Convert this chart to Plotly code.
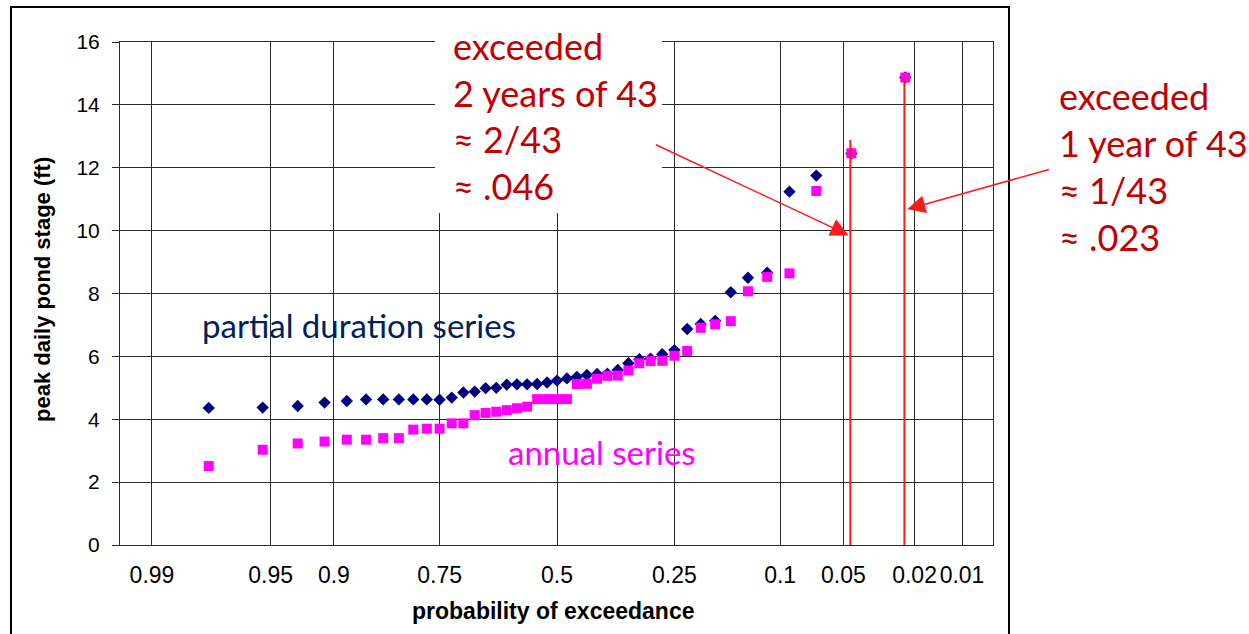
from statistics import NormalDist
import plotly.graph_objects as go

# Peak daily pond stage (ft) for 43 years of record, ranked largest (rank 1) to smallest
partial_duration_ft = [14.87, 12.45, 11.75, 11.24, 8.66, 8.50, 8.04, 7.13, 7.03, 6.87,
                       6.20, 6.07, 5.93, 5.91, 5.78, 5.57, 5.45, 5.44, 5.41, 5.35,
                       5.30, 5.23, 5.17, 5.12, 5.11, 5.11, 5.10, 5.00, 4.99, 4.88,
                       4.85, 4.69, 4.62, 4.63, 4.63, 4.63, 4.63, 4.63, 4.58, 4.53,
                       4.42, 4.37, 4.36]
annual_ft = [14.87, 12.46, 11.26, 8.64, 8.53, 8.07, 7.12, 7.02, 6.91, 6.17,
             6.02, 5.86, 5.85, 5.78, 5.55, 5.39, 5.38, 5.29, 5.13, 5.12,
             4.64, 4.64, 4.64, 4.64, 4.40, 4.35, 4.29, 4.24, 4.20, 4.13,
             3.87, 3.87, 3.70, 3.70, 3.67, 3.40, 3.40, 3.35, 3.35, 3.29,
             3.23, 3.03, 2.51]
years_of_record = 43

# Probability-paper ticks
tick_probs = [0.99, 0.95, 0.9, 0.75, 0.5, 0.25, 0.1, 0.05, 0.02, 0.01]
tick_labels = ["0.99", "0.95", "0.9", "0.75", "0.5", "0.25", "0.1", "0.05", "0.02", "0.01"]
y_ticks = [0, 2, 4, 6, 8, 10, 12, 14, 16]

# Exceedance probabilities called out on the chart
marked_probs = [0.046, 0.023]
marked_tops = [12.88, 14.9]

note_2yr = ["exceeded", "2 years of 43", "\u2248 2/43", "\u2248 .046"]
note_1yr = ["exceeded", "1 year of 43", "\u2248 1/43", "\u2248 .023"]

ND = NormalDist()


def zpos(p):
    """Normal-probability scale position for an exceedance probability."""
    return ND.inv_cdf(1.0 - p)


ranks = list(range(1, years_of_record + 1))
plot_pos = [m / (years_of_record + 1) for m in ranks]
xs = [zpos(p) for p in plot_pos]

W, H = 1249, 634
L, R, T, B = 120, 993, 42, 545
pw, ph = R - L, B - T


def px(xp):
    return (xp - L) / pw


def py(yp):
    return (B - yp) / ph


RED_TXT = "#C00000"
RED = "#FF1A1A"
GRID = "#2a2a2a"
AXIS_FONT = "Liberation Sans, Arial, sans-serif"

fig = go.Figure()
fig.add_trace(go.Scatter(
    x=xs, y=partial_duration_ft, mode="markers", name="partial duration series",
    marker=dict(symbol="diamond", size=9.5, color="#000080", line=dict(width=0)),
))
fig.add_trace(go.Scatter(
    x=xs, y=annual_ft, mode="markers", name="annual series",
    marker=dict(symbol="square", size=10, color="#FF00FF", line=dict(width=0)),
))

shapes = []
# white panel behind the 2-year note
shapes.append(dict(type="rect", xref="paper", yref="paper",
                   x0=px(435), x1=px(662), y0=py(213), y1=py(30),
                   fillcolor="white", line=dict(width=0), layer="above"))
# vertical markers at the called-out probabilities
for p, top in zip(marked_probs, marked_tops):
    shapes.append(dict(type="line", xref="x", yref="y",
                       x0=zpos(p), x1=zpos(p), y0=0, y1=top,
                       line=dict(color=RED, width=2), layer="above"))
# outer chart frame
shapes.append(dict(type="rect", xref="paper", yref="paper",
                   x0=px(11), x1=px(1009), y0=py(660), y1=py(7),
                   line=dict(color="black", width=2), fillcolor="rgba(0,0,0,0)",
                   layer="above"))

annotations = []
txt_font = "Lato, 'Open Sans', sans-serif"
for i, line in enumerate(note_2yr):
    annotations.append(dict(xref="paper", yref="paper", x=px(451), y=py(46 + 46.7 * i),
                            text=line, showarrow=False, xanchor="left", yanchor="middle",
                            font=dict(family=txt_font, size=36, color=RED_TXT)))
for i, line in enumerate(note_1yr):
    annotations.append(dict(xref="paper", yref="paper", x=px(1057), y=py(96 + 47 * i),
                            text=line, showarrow=False, xanchor="left", yanchor="middle",
                            font=dict(family=txt_font, size=36, color=RED_TXT)))

# arrows pointing at the vertical markers
annotations.append(dict(xref="x", yref="y", x=zpos(marked_probs[0]), y=(B - 236) / ph * 16,
                        ax=-196, ay=-92, text="", showarrow=True, arrowhead=2,
                        arrowsize=2.4, arrowwidth=1.5, arrowcolor=RED, standoff=2))
annotations.append(dict(xref="x", yref="y", x=zpos(marked_probs[1]), y=(B - 210) / ph * 16,
                        ax=146, ay=-41, text="", showarrow=True, arrowhead=2,
                        arrowsize=2.4, arrowwidth=1.5, arrowcolor=RED, standoff=3))

# series labels
annotations.append(dict(xref="paper", yref="paper", x=px(200), y=py(325),
                        text="partial duration series", showarrow=False,
                        xanchor="left", yanchor="middle",
                        font=dict(family=txt_font, size=33, color="#002060")))
annotations.append(dict(xref="paper", yref="paper", x=px(506), y=py(452),
                        text="annual series", showarrow=False,
                        xanchor="left", yanchor="middle",
                        font=dict(family=txt_font, size=33, color="#FF00FF")))

# axis titles
annotations.append(dict(xref="paper", yref="paper", x=px(42), y=py(290),
                        text="<b>peak daily pond stage (ft)</b>", showarrow=False,
                        textangle=-90, xanchor="center", yanchor="middle",
                        font=dict(family=AXIS_FONT, size=22, color="black")))
annotations.append(dict(xref="paper", yref="paper", x=px(553), y=py(611),
                        text="<b>probability of exceedance</b>", showarrow=False,
                        xanchor="center", yanchor="middle",
                        font=dict(family=AXIS_FONT, size=23, color="black")))

z_left = -(557 - L) / 174.1
z_right = (R - 557) / 174.1

fig.update_layout(
    width=W, height=H,
    margin=dict(l=L, r=W - R, t=T, b=H - B, pad=0),
    paper_bgcolor="white", plot_bgcolor="white",
    showlegend=False,
    shapes=shapes, annotations=annotations,
    xaxis=dict(range=[z_left, z_right], tickvals=[zpos(p) for p in tick_probs],
               ticktext=tick_labels, tickangle=0, showgrid=True, gridcolor=GRID,
               gridwidth=1, zeroline=False, showline=True, linecolor=GRID, linewidth=1,
               mirror=True, ticks="", ticklabelstandoff=9,
               tickfont=dict(family=AXIS_FONT, size=23, color="black")),
    yaxis=dict(range=[0, 16], tickvals=y_ticks, showgrid=True, gridcolor=GRID,
               gridwidth=1, zeroline=False, showline=True, linecolor=GRID, linewidth=1,
               mirror=True, ticks="outside", ticklen=7, tickcolor=GRID,
               ticklabelstandoff=8,
               tickfont=dict(family=AXIS_FONT, size=21, color="black")),
)

fig.write_html("out.html")
